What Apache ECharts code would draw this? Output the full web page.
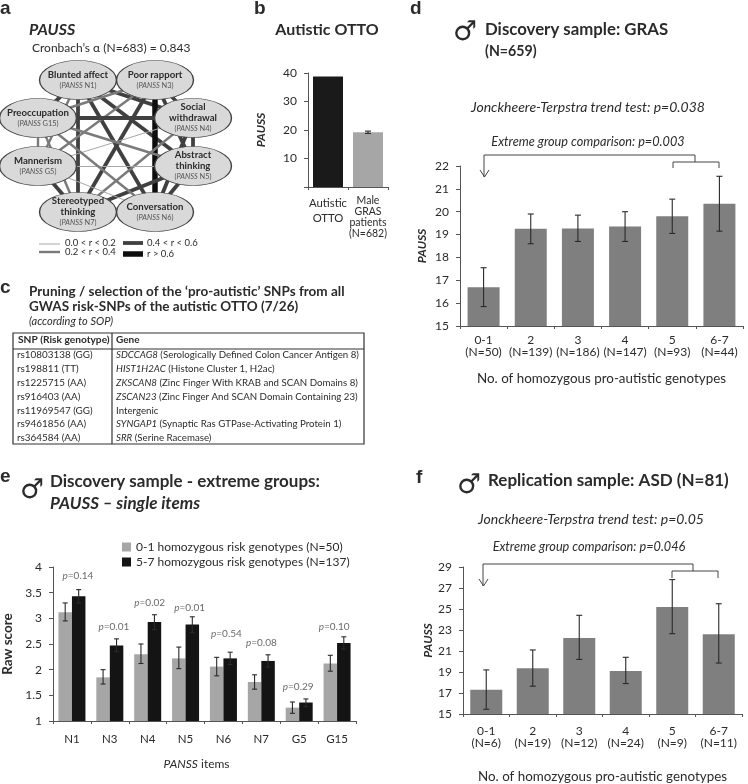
<!DOCTYPE html>
<html><head><meta charset="utf-8">
<style>html,body{margin:0;padding:0;background:#fff}#c{width:748px;height:784px}</style>
<script src="https://cdn.jsdelivr.net/npm/echarts@6/dist/echarts.min.js"></script>
</head><body><div id="c"></div>
<script>
const FONT='Lato, "Open Sans", sans-serif';
const INK='#2b2b2b', AXIS='#555';
// Panel a
const nodeNames=['Blunted affect','Poor rapport','Social\nwithdrawal','Abstract\nthinking','Conversation','Stereotyped\nthinking','Mannerism','Preoccupation'];
const nodeItems=['N1','N3','N4','N5','N6','N7','G5','G15'];
const nodeX=[78,155,193,193,155,78,38,38];
const nodeY=[80,80,118,166,212,212,166,118];
const edges=[[0,1,4],[0,2,3],[0,3,3],[0,4,3],[0,5,3],[0,6,2],[0,7,3],
[1,2,3],[1,3,3],[1,4,4],[1,5,3],[1,6,2],[1,7,2],
[2,3,3],[2,4,3],[2,5,2],[2,6,1],[2,7,3],
[3,4,3],[3,5,3],[3,6,1],[3,7,2],
[4,5,3],[4,6,1],[4,7,2],
[5,6,3],[5,7,2],[6,7,2]];
const rWidth={1:1,2:2.4,3:3.8,4:5.5};
const rColor={1:'#a8a8a8',2:'#7a7a7a',3:'#404040',4:'#0d0d0d'};
// Panel b
const bCats=['Autistic\nOTTO','Male\nGRAS\npatients\n(N=682)'];
const bVals=[38.8,19.2];
const bErr=[[1,18.8,19.6]];
// Panel c
const snps=['rs10803138 (GG)','rs198811 (TT)','rs1225715 (AA)','rs916403 (AA)','rs11969547 (GG)','rs9461856 (AA)','rs364584 (AA)'];
const geneNames=['SDCCAG8','HIST1H2AC','ZKSCAN8','ZSCAN23','','SYNGAP1','SRR'];
const geneDesc=[' (Serologically Defined Colon Cancer Antigen 8)',' (Histone Cluster 1, H2ac)',' (Zinc Finger With KRAB and SCAN Domains 8)',' (Zinc Finger And SCAN Domain Containing 23)','Intergenic',' (Synaptic Ras GTPase-Activating Protein 1)',' (Serine Racemase)'];
// Panel d
const dCats=['0-1\n(N=50)','2\n(N=139)','3\n(N=186)','4\n(N=147)','5\n(N=93)','6-7\n(N=44)'];
const dVals=[16.7,19.25,19.27,19.35,19.8,20.35];
const dLow=[15.85,18.6,18.7,18.7,19.05,19.15];
const dHigh=[17.55,19.9,19.85,20.0,20.55,21.55];
// Panel e
const eCats=['N1','N3','N4','N5','N6','N7','G5','G15'];
const eLowGroup=[3.12,1.85,2.3,2.22,2.06,1.76,1.26,2.12];
const eHighGroup=[3.43,2.47,2.93,2.88,2.22,2.17,1.36,2.52];
const eLowErrLo=[2.95,1.72,2.12,2.02,1.88,1.62,1.15,1.97];
const eLowErrHi=[3.3,2.0,2.5,2.44,2.24,1.9,1.37,2.28];
const eHighErrLo=[3.3,2.35,2.78,2.72,2.1,2.05,1.28,2.4];
const eHighErrHi=[3.56,2.6,3.07,3.03,2.34,2.29,1.43,2.64];
const ePLabels=['0.14','0.01','0.02','0.01','0.54','0.08','0.29','0.10'];
const ePY=[3.82,2.84,3.3,3.21,2.69,2.52,1.67,2.84];
const ePDx=[6,4,2,4,3,0,-1,-3];
// Panel f
const fCats=['0-1\n(N=6)','2\n(N=19)','3\n(N=12)','4\n(N=24)','5\n(N=9)','6-7\n(N=11)'];
const fVals=[17.3,19.35,22.25,19.1,25.2,22.6];
const fLow=[15.45,17.65,20.2,17.9,22.65,19.85];
const fHigh=[19.2,21.1,24.4,20.4,27.8,25.5];
const fTicks=[15,17,19,21,23,25,27,29];

const chart=echarts.init(document.getElementById('c'),null,{renderer:'canvas',width:748,height:784});

function zip(a,b,c){return a.map((v,i)=>[i,b?b[i]:v,c?c[i]:v]);}
function errSeries(xi,yi,data,off,capPx){
  return {type:'custom',xAxisIndex:xi,yAxisIndex:yi,silent:true,z:5,clip:false,
    encode:{x:0,y:[1,2]},data:data,
    renderItem(p,api){
      const a=api.coord([api.value(0),api.value(1)]),b=api.coord([api.value(0),api.value(2)]);
      const x=a[0]+api.size([1,0])[0]*off;
      const s={stroke:'#2a2a2a',lineWidth:1.1};
      return {type:'group',children:[
        {type:'line',shape:{x1:x,y1:a[1],x2:x,y2:b[1]},style:s},
        {type:'line',shape:{x1:x-capPx,y1:a[1],x2:x+capPx,y2:a[1]},style:s},
        {type:'line',shape:{x1:x-capPx,y1:b[1],x2:x+capPx,y2:b[1]},style:s}]};
    }};
}
const cax=(i,cats,lab,extra)=>Object.assign({type:'category',gridIndex:i,data:cats,
  axisLine:{lineStyle:{color:AXIS,width:1}},
  axisTick:{show:true,length:3,lineStyle:{color:AXIS},alignWithLabel:false},
  axisLabel:Object.assign({color:INK,fontFamily:FONT,fontSize:12,interval:0,lineHeight:12},lab||{})},extra||{});
const vax=(i,min,max,interval,lab,extra)=>Object.assign({type:'value',gridIndex:i,min,max,interval,
  splitLine:{show:false},
  axisLine:{show:true,lineStyle:{color:AXIS,width:1}},
  axisTick:{show:true,length:4,lineStyle:{color:AXIS}},
  axisLabel:Object.assign({color:INK,fontFamily:FONT,fontSize:12,margin:11},lab||{})},extra||{});
const XNAME={color:INK,fontFamily:FONT,fontSize:13.4};
const YNAME={color:INK,fontFamily:FONT,fontSize:12,fontWeight:'bold',fontStyle:'italic'};

const grids=[
 {left:0,top:0,width:250,height:270},          //0 network
 {left:308,top:73,width:80,height:114},        //1 b
 {left:460,top:166,width:283,height:160},      //2 d
 {left:53,top:567,width:303,height:154},       //3 e
 {left:463,top:567,width:279,height:154}       //4 f
];
const xAxes=[
 {type:'value',gridIndex:0,min:0,max:250,show:false},
 cax(1,bCats,{fontSize:10.5,lineHeight:11,margin:8,formatter:v=>v.indexOf('Autistic')===0?'{a|'+v.replace('\n','}\n{a|')+'}':v,rich:{a:{fontSize:11.3,lineHeight:15,padding:[2,0,0,0],color:INK,fontFamily:FONT}}}),
 cax(2,dCats,{margin:8},{name:'No. of homozygous pro-autistic genotypes',nameLocation:'middle',nameGap:46,nameTextStyle:XNAME}),
 cax(3,eCats,{fontSize:11.5,margin:12},{name:'{i|PANSS} {n|items}',nameLocation:'middle',nameGap:37,nameTextStyle:{padding:[0,16,0,0],rich:{i:{fontFamily:FONT,fontStyle:'italic',fontSize:12,color:INK},n:{fontFamily:FONT,fontSize:12,color:INK}}}}),
 cax(4,fCats,{margin:11},{name:'No. of homozygous pro-autistic genotypes',nameLocation:'middle',nameGap:56,nameTextStyle:XNAME})
];
const yAxes=[
 {type:'value',gridIndex:0,min:0,max:270,inverse:true,show:false},
 vax(1,0,40,10,{formatter:v=>v===0?'':String(v)},{name:'PAUSS',nameLocation:'middle',nameGap:41,nameTextStyle:YNAME}),
 vax(2,15,22,1,{},{name:'PAUSS',nameLocation:'middle',nameGap:32,nameTextStyle:YNAME}),
 vax(3,1,4,0.5,{},{name:'Raw score',nameLocation:'middle',nameGap:38,nameTextStyle:Object.assign({},YNAME,{fontStyle:'normal',fontSize:13.5})}),
 {type:'value',gridIndex:4,min:15,max:29,splitLine:{show:false},
  axisLine:{show:true,lineStyle:{color:AXIS,width:1}},
  axisTick:{show:true,length:4,lineStyle:{color:AXIS},customValues:fTicks},
  axisLabel:{color:INK,fontFamily:FONT,fontSize:12,margin:11,customValues:fTicks},
  name:'PAUSS',nameLocation:'middle',nameGap:29,nameTextStyle:YNAME}
];

const ell='path://M0 50 C0 22 45 0 100 0 C155 0 200 22 200 50 C200 78 155 100 100 100 C45 100 0 78 0 50 Z';
const series=[
 {type:'graph',coordinateSystem:'cartesian2d',xAxisIndex:0,yAxisIndex:0,layout:'none',silent:true,
  symbol:ell,symbolKeepAspect:false,symbolSize:[77,39],
  itemStyle:{color:'#d9d9d9',borderColor:'#404040',borderWidth:1,opacity:1},
  label:{show:true,position:'inside',fontFamily:FONT,color:INK,
    rich:{b:{fontWeight:'bold',fontSize:9.6,lineHeight:10.5,color:INK,fontFamily:FONT},
          i:{fontStyle:'italic',fontSize:7.4,lineHeight:11,color:'#555',fontFamily:FONT},
          n:{fontSize:7.4,lineHeight:11,color:'#555',fontFamily:FONT}}},
  data:nodeNames.map((n,i)=>({value:[nodeX[i],nodeY[i]],name:nodeItems[i],
    label:{formatter:n.split('\n').map(s=>'{b|'+s+'}').join('\n')+'\n{n|(}{i|PANSS}{n| '+nodeItems[i]+')}'}})),
  links:edges.map(e=>({source:e[0],target:e[1],lineStyle:{width:rWidth[e[2]],color:rColor[e[2]],opacity:1,curveness:0}}))},
 {type:'bar',xAxisIndex:1,yAxisIndex:1,barWidth:30,silent:true,
  data:bVals.map((v,i)=>({value:v,itemStyle:{color:i?'#a6a6a6':'#1a1a1a'}}))},
 errSeries(1,1,bErr,0,3),
 {type:'bar',xAxisIndex:2,yAxisIndex:2,barWidth:32,silent:true,itemStyle:{color:'#7f7f7f'},data:dVals},
 errSeries(2,2,zip(dVals,dLow,dHigh),0,3),
 {type:'bar',name:'0-1 homozygous risk genotypes (N=50)',xAxisIndex:3,yAxisIndex:3,barWidth:13.5,barGap:0,silent:true,itemStyle:{color:'#a6a6a6'},data:eLowGroup},
 {type:'bar',name:'5-7 homozygous risk genotypes (N=137)',xAxisIndex:3,yAxisIndex:3,barWidth:13.5,barGap:0,silent:true,itemStyle:{color:'#141414'},data:eHighGroup},
 errSeries(3,3,zip(eLowGroup,eLowErrLo,eLowErrHi),-0.178,2.5),
 errSeries(3,3,zip(eHighGroup,eHighErrLo,eHighErrHi),0.178,2.5),
 {type:'scatter',xAxisIndex:3,yAxisIndex:3,symbolSize:1,silent:true,itemStyle:{color:'transparent'},
  data:ePY.map((y,i)=>({value:[i,y],label:{offset:[ePDx[i],0]}})),
  label:{show:true,position:'inside',formatter:p=>'{i|p}{n|='+ePLabels[p.dataIndex]+'}',
    rich:{i:{fontStyle:'italic',fontSize:10,color:'#444',fontFamily:FONT},n:{fontSize:10,color:'#444',fontFamily:FONT}}}},
 {type:'bar',xAxisIndex:4,yAxisIndex:4,barWidth:32,silent:true,itemStyle:{color:'#7f7f7f'},data:fVals},
 errSeries(4,4,zip(fVals,fLow,fHigh),0,3)
];

// annotation texts and lines
const g=[];
function T(x,y,text,o){g.push({type:'text',x,y,silent:true,style:Object.assign({text,fill:INK,font:(o&&o.font)||('11px '+FONT),textAlign:(o&&o.align)||'left',textVerticalAlign:'middle',verticalAlign:'middle'},o&&o.style||{})});}
function L(pts,color,w){g.push({type:'polyline',silent:true,shape:{points:pts},style:{stroke:color||'#444',lineWidth:w||1,fill:'none'}});}
const LET='bold 19px "Liberation Sans", sans-serif';
T(0,9,'a',{font:LET});T(254,9,'b',{font:LET});T(0,288,'c',{font:LET});T(410,9,'d',{font:LET});T(0,477,'e',{font:LET});T(416,478,'f',{font:LET});
const bold=s=>'bold '+s+'px '+FONT, ital=s=>'italic '+s+'px '+FONT, bi=s=>'italic bold '+s+'px '+FONT;
// a
T(29,30,'PAUSS',{font:bi(16)});
T(32,48,'Cronbach\u2019s \u03b1 (N=683) = 0.843',{font:'12px '+FONT});
L([[39,244],[60,244]],rColor[1],1);L([[39,252],[60,252]],rColor[2],2.4);L([[123,243],[143,243]],rColor[3],3.8);L([[123,254],[143,254]],rColor[4],5.5);
T(65,243,'0.0 < r < 0.2',{font:'9.5px '+FONT});T(65,252,'0.2 < r < 0.4',{font:'9.5px '+FONT});
T(147,243,'0.4 < r < 0.6',{font:'9.5px '+FONT});T(147,254,'r > 0.6',{font:'9.5px '+FONT});
// b
T(327,30,'Autistic OTTO',{font:bold(16),align:'center'});
// c
T(29,292,'Pruning / selection of the \u2018pro-autistic\u2019 SNPs from all',{font:bold(13.5)});
T(29,307,'GWAS risk-SNPs of the autistic OTTO (7/26)',{font:bold(13.5)});
T(29,321,'(according to SOP)',{font:ital(11)});
g.push({type:'rect',silent:true,shape:{x:13,y:333,width:351,height:111},style:{stroke:'#333',lineWidth:1.2,fill:'none'}});
L([[13,349],[364,349]],'#333',1.2);L([[112,333],[112,444]],'#333',1.2);
T(18,340,'SNP (Risk genotype)',{font:bold(10.2)});T(116,340,'Gene',{font:bold(10)});
const rowY=[355,369,383,397,411,424,438];
snps.forEach((s,i)=>{
  T(17,rowY[i],s,{font:'9.9px '+FONT});
  const gn=geneNames[i];
  g.push({type:'text',silent:true,x:116,y:rowY[i],style:{
    text:(gn?'{i|'+gn+'}':'')+'{n|'+geneDesc[i]+'}',verticalAlign:'middle',textAlign:'left',
    rich:{i:{fontStyle:'italic',fontSize:9.7,fontFamily:FONT,fill:INK},n:{fontSize:9.7,fontFamily:FONT,fill:INK}}}});
});
// d
const MALE='27px "DejaVu Sans", sans-serif';
T(453,33,'\u2642',{font:MALE});
T(485,30,'Discovery sample: GRAS',{font:bold(16.8)});
T(485,51,'(N=659)',{font:bold(14.2)});
T(588,107,'Jonckheere-Terpstra trend test: p=0.038',{font:ital(14),align:'center'});
T(588,142,'Extreme group comparison: p=0.003',{font:ital(12.7),align:'center'});
L([[484,177],[484,155],[695,155],[695,162]]);L([[480,170],[484.5,177],[489,170]]);L([[673,168],[673,162],[719,162],[719,168]]);
// e
T(20,491,'\u2642',{font:MALE});
T(50,482,'Discovery sample - extreme groups:',{font:bold(17)});
T(50,504,'PAUSS \u2013 single items',{font:bi(17)});
// f
T(457,486,'\u2642',{font:MALE});
T(488,481,'Replication sample: ASD (N=81)',{font:bold(17)});
T(591,519,'Jonckheere-Terpstra trend test: p=0.05',{font:ital(14),align:'center'});
T(589,547,'Extreme group comparison: p=0.046',{font:ital(12.7),align:'center'});
L([[483,586],[483,564],[693,564],[693,571]]);L([[479,579],[483.5,586],[488,579]]);L([[672,578],[672,571],[718,571],[718,578]]);

chart.setOption({
  animation:false,backgroundColor:'#fff',textStyle:{fontFamily:FONT},
  grid:grids,xAxis:xAxes,yAxis:yAxes,series,
  legend:{left:117,top:536,orient:'vertical',itemWidth:9,itemHeight:9,itemGap:3,icon:'rect',selectedMode:false,
    textStyle:{color:INK,fontFamily:FONT,fontSize:12},
    data:['0-1 homozygous risk genotypes (N=50)','5-7 homozygous risk genotypes (N=137)']},
  graphic:{elements:g}
});
</script></body></html>
